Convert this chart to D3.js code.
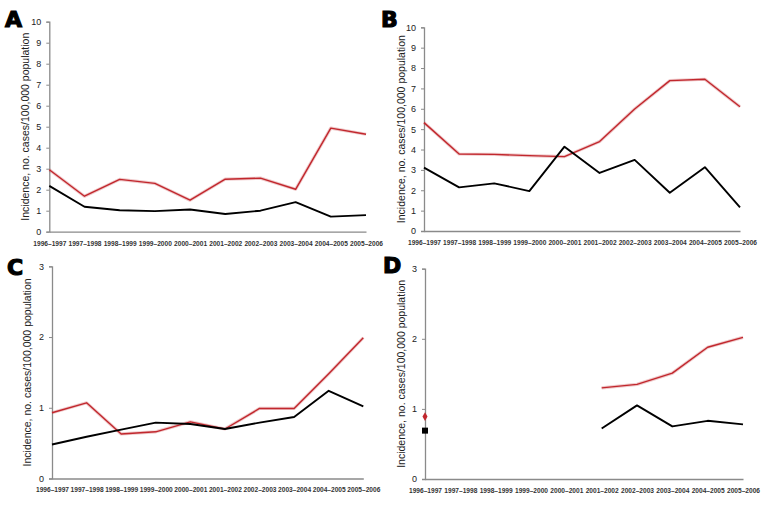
<!DOCTYPE html>
<html>
<head>
<meta charset="utf-8">
<script src="https://cdn.jsdelivr.net/npm/d3@7"></script>
<style>
  html, body { margin: 0; padding: 0; background: #fff; }
  svg { display: block; }
</style>
</head>
<body>
<svg id="chart" width="768" height="506"></svg>
<script>
// ---------- DATA ----------
const categories = ["1996–1997","1997–1998","1998–1999","1999–2000","2000–2001","2001–2002","2002–2003","2003–2004","2004–2005","2005–2006"];

const panelLabels = ["A", "B", "C", "D"];
const yAxisTitle = "Incidence, no. cases/100,000 population";

const yTicksAB = [0,1,2,3,4,5,6,7,8,9,10];
const yTicksCD = [0,1,2,3];

const redA   = [2.95, 1.69, 2.49, 2.30, 1.50, 2.50, 2.55, 2.02, 4.93, 4.64];
const blackA = [2.18, 1.19, 1.02, 0.98, 1.06, 0.84, 1.00, 1.41, 0.72, 0.79];

const redB   = [5.32, 3.78, 3.76, 3.70, 3.65, 4.39, 5.99, 7.38, 7.45, 6.10];
const blackB = [3.11, 2.14, 2.34, 1.96, 4.14, 2.85, 3.49, 1.88, 3.13, 1.16];

const redC   = [0.93, 1.07, 0.63, 0.66, 0.80, 0.70, 0.99, 0.99, 1.48, 1.99];
const blackC = [0.48, 0.59, 0.69, 0.79, 0.77, 0.70, 0.79, 0.87, 1.24, 1.02];

const redD   = [0.89, null, null, null, null, 1.30, 1.35, 1.51, 1.88, 2.02];
const blackD = [0.69, null, null, null, null, 0.72, 1.05, 0.75, 0.83, 0.78];

// ---------- LAYOUT ----------
const RED = "#c1272d";
const panels = [
  { label: panelLabels[0], red: redA, black: blackA, ticks: yTicksAB, yMax: 10,
    x0: 49.3, x1: 366, yTop: 21.7, yBot: 231.7, titleX: 25, lx: 5, ly: 27 },
  { label: panelLabels[1], red: redB, black: blackB, ticks: yTicksAB, yMax: 10,
    x0: 424, x1: 740, yTop: 27.3, yBot: 231, titleX: 401, lx: 381, ly: 27 },
  { label: panelLabels[2], red: redC, black: blackC, ticks: yTicksCD, yMax: 3,
    x0: 52, x1: 363.3, yTop: 266.3, yBot: 478.5, titleX: 27, lx: 7, ly: 275 },
  { label: panelLabels[3], red: redD, black: blackD, ticks: yTicksCD, yMax: 3,
    x0: 425, x1: 743, yTop: 268.7, yBot: 479, titleX: 401, lx: 383, ly: 273 }
];

const svg = d3.select("#chart");

panels.forEach(p => {
  const g = svg.append("g");
  const x = d3.scalePoint().domain(categories).range([p.x0, p.x1]).padding(0);
  const y = d3.scaleLinear().domain([0, p.yMax]).range([p.yBot, p.yTop]);

  // y axis
  const yAxis = d3.axisLeft(y).tickValues(p.ticks).tickSize(3).tickPadding(5).tickFormat(d3.format("d"));
  const ya = g.append("g").attr("transform", `translate(${p.x0},0)`).call(yAxis);
  ya.select(".domain").attr("stroke", "#8a8a8a").attr("stroke-width", 1.3);
  ya.selectAll(".tick line").attr("stroke", "#8a8a8a").attr("stroke-width", 1);
  ya.selectAll(".tick text")
    .attr("font-family", "Liberation Sans, Arial, sans-serif")
    .attr("font-size", 9).attr("fill", "#222");

  // x axis
  const xAxis = d3.axisBottom(x).tickSize(0).tickPadding(9);
  const xa = g.append("g").attr("transform", `translate(0,${p.yBot})`).call(xAxis);
  xa.select(".domain").attr("stroke", "#8a8a8a").attr("stroke-width", 1.3);
  xa.selectAll(".tick text")
    .attr("font-family", "Liberation Sans, Arial, sans-serif")
    .attr("font-size", 7).attr("font-weight", "bold").attr("fill", "#333")
    .attr("textLength", 33).attr("lengthAdjust", "spacingAndGlyphs");

  // y title
  g.append("text")
    .attr("transform", `translate(${p.titleX},${(p.yTop + p.yBot) / 2}) rotate(-90)`)
    .attr("text-anchor", "middle").attr("dominant-baseline", "central")
    .attr("font-family", "Liberation Sans, Arial, sans-serif")
    .attr("font-size", 10.5).attr("fill", "#222")
    .text(yAxisTitle);

  // panel letter
  g.append("text")
    .attr("x", p.lx).attr("y", p.ly)
    .attr("font-family", "DejaVu Sans, Liberation Sans, sans-serif")
    .attr("font-size", 22).attr("font-weight", 900).attr("fill", "#000")
    .attr("stroke", "#000").attr("stroke-width", 1.2)
    .text(p.label);

  const line = d3.line()
    .defined(d => d.v !== null)
    .x(d => x(d.c)).y(d => y(d.v));

  const redPts = categories.map((c, i) => ({ c, v: p.red[i] }));
  const blackPts = categories.map((c, i) => ({ c, v: p.black[i] }));

  // connected segments only (skip isolated points)
  const isolated = (arr, i) => arr[i].v !== null &&
    (i === 0 || arr[i - 1].v === null) && (i === arr.length - 1 || arr[i + 1].v === null);

  // red glow + line
  g.append("path").datum(redPts).attr("d", line)
    .attr("fill", "none").attr("stroke", RED).attr("stroke-opacity", 0.25)
    .attr("stroke-width", 3.2).attr("stroke-linejoin", "round");
  g.append("path").datum(redPts).attr("d", line)
    .attr("fill", "none").attr("stroke", RED).attr("stroke-width", 1.4)
    .attr("stroke-linejoin", "round");
  // black line
  g.append("path").datum(blackPts).attr("d", line)
    .attr("fill", "none").attr("stroke", "#000").attr("stroke-width", 1.9)
    .attr("stroke-linejoin", "round");

  // isolated markers
  redPts.forEach((d, i) => {
    if (isolated(redPts, i)) {
      g.append("path")
        .attr("d", d3.symbol(d3.symbolDiamond, 22)())
        .attr("transform", `translate(${x(d.c)},${y(d.v)})`)
        .attr("fill", RED);
    }
  });
  blackPts.forEach((d, i) => {
    if (isolated(blackPts, i)) {
      g.append("path")
        .attr("d", d3.symbol(d3.symbolSquare, 36)())
        .attr("transform", `translate(${x(d.c)},${y(d.v)})`)
        .attr("fill", "#000");
    }
  });
});
</script>
</body>
</html>
